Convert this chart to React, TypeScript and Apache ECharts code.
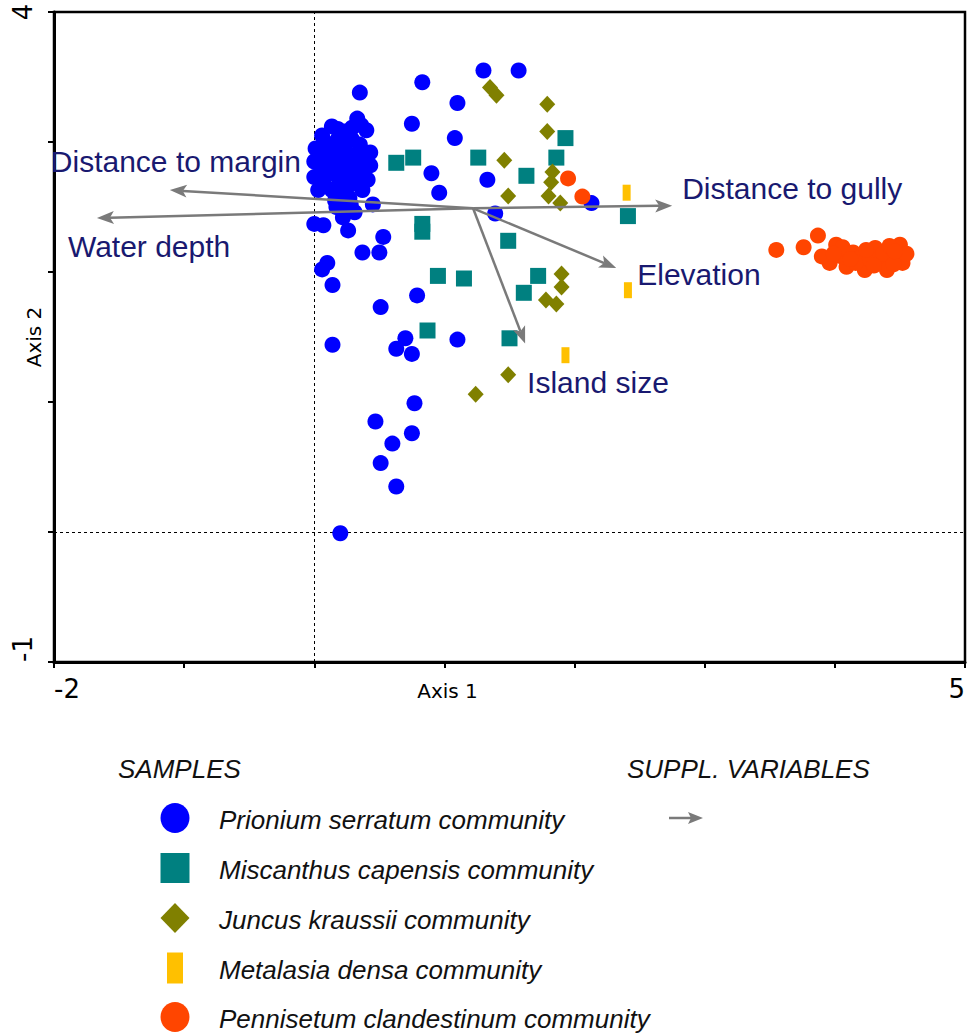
import React, { useEffect, useRef } from "react";
import * as echarts from "echarts";

// ---------- DATA ----------
const seriesNames = [
  "Prionium serratum community",
  "Miscanthus capensis community",
  "Juncus kraussii community",
  "Metalasia densa community",
  "Pennisetum clandestinum community",
];

const prionium: number[][] = [
  [0.2, -0.01], [0.63, 0.35], [0.51, 0.53], [0.75, 0.76], [0.6, 0.68], [0.47, 0.85],
  [0.77, 0.99], [0.14, 1.44], [0.63, 1.41], [0.7, 1.49], [0.75, 1.37], [1.1, 1.48],
  [0.51, 1.73], [0.79, 1.82], [0.14, 1.9], [0.06, 2.02], [0.1, 2.07], [0.37, 2.15],
  [0.5, 2.15], [0.53, 2.27], [0.0, 2.37], [0.07, 2.36], [0.22, 2.42], [0.26, 2.32],
  [0.45, 2.52], [0.22, 2.52], [0.9, 2.76], [0.96, 2.61], [1.33, 2.71], [1.39, 2.45],
  [1.08, 3.03], [0.75, 3.14], [1.1, 3.3], [0.83, 3.46], [1.3, 3.55], [1.57, 3.55],
  [0.35, 3.38], [2.13, 2.53],
  [0.33, 3.18], [0.4, 3.09], [0.135, 3.12], [0.06, 3.05], [0.235, 3.08], [0.01, 2.95],
  [0.12, 2.98], [0.235, 2.95], [0.35, 2.98], [0.43, 2.92], [0.0, 2.85], [0.1, 2.86],
  [0.21, 2.85], [0.32, 2.86], [0.43, 2.82], [0.0, 2.73], [0.1, 2.75], [0.21, 2.72],
  [0.32, 2.74], [0.41, 2.71], [0.03, 2.63], [0.135, 2.63], [0.24, 2.615], [0.37, 2.63],
  [0.16, 2.55], [0.27, 2.57], [0.22, 2.46], [0.31, 2.46],
  [0.055, 2.9], [0.165, 2.9], [0.28, 2.9], [0.39, 2.9], [0.055, 2.79], [0.165, 2.79],
  [0.27, 2.79], [0.38, 2.79], [0.07, 2.68], [0.19, 2.68], [0.3, 2.68], [0.18, 3.02],
  [0.29, 3.02], [0.08, 3.0], [0.21, 2.58], [0.28, 2.52], [0.17, 2.5], [0.18, 3.1],
  [0.29, 3.11], [0.36, 3.13],
];

const miscanthus: number[][] = [
  [0.63, 2.84], [0.76, 2.88], [1.26, 2.88], [1.93, 3.03], [1.86, 2.88], [1.63, 2.74],
  [0.83, 2.37], [0.83, 2.31], [1.49, 2.24], [0.95, 1.97], [1.15, 1.95], [1.72, 1.97],
  [1.61, 1.84], [0.87, 1.55], [1.5, 1.49], [2.41, 2.43],
];

const juncus: number[][] = [
  [1.35, 3.42], [1.4, 3.36], [1.79, 3.29], [1.79, 3.08], [1.46, 2.86], [1.49, 2.585],
  [1.83, 2.77], [1.82, 2.69], [1.8, 2.585], [1.89, 2.53], [1.9, 1.985], [1.9, 1.885],
  [1.78, 1.785], [1.86, 1.754], [1.49, 1.21], [1.24, 1.06],
];

const metalasia: number[][] = [
  [2.4, 2.61], [2.41, 1.86], [1.93, 1.36],
];

const pennisetum: number[][] = [
  [1.95, 2.72], [2.06, 2.58], [3.55, 2.17], [3.76, 2.19], [3.87, 2.28], [3.96, 2.07],
  [4.01, 2.21], [4.09, 2.04], [4.14, 2.15], [4.19, 2.11], [4.23, 2.015], [4.31, 2.185],
  [4.34, 2.09], [4.4, 2.015], [4.475, 2.115], [4.5, 2.21], [4.52, 2.07], [3.9, 2.12],
  [4.05, 2.12], [4.16, 2.07], [4.27, 2.1], [4.37, 2.14], [4.45, 2.06], [4.06, 2.19],
  [4.24, 2.17], [4.42, 2.2], [4.55, 2.14], [3.99, 2.14], [4.12, 2.1], [4.3, 2.05],
  [4.46, 2.16],
];

const variableNames = [
  "Distance to margin",
  "Water depth",
  "Distance to gully",
  "Elevation",
  "Island size",
];
const arrowOrigin = [1.22, 2.49];
const variableTips: number[][] = [
  [-1.11, 2.63], [-1.67, 2.415], [2.75, 2.51], [2.32, 2.03], [1.62, 1.45],
];

const xTickLabels = [-2, 5];
const yTickLabels = [-1, 4];

// ---------- STYLES ----------
const colors = ["#0000ff", "#008080", "#808000", "#ffc000", "#ff4500"];
const arrowColor = "#7a7a7a";
const labelColor = "#191970";
const labelOffsets = [[-119, -29], [-29, 28], [10, -17], [21, 6], [2, 39]];
const sans = '"Liberation Sans", Arial, sans-serif';
const dejavu = '"DejaVu Sans", sans-serif';

export default function App() {
  const ref = useRef<HTMLDivElement>(null);

  useEffect(() => {
    document.body.style.margin = "0";
    const chart = echarts.init(ref.current!, null, { renderer: "svg" });

    const scatter = (name: string, data: number[][], symbol: string, size: any, color: string) => ({
      type: "scatter",
      name,
      data,
      symbol,
      symbolSize: size,
      itemStyle: { color, opacity: 1 },
      z: 2,
      silent: true,
      emphasis: { disabled: true },
    });

    const legendX = 175;
    const legendTextX = 219;
    const legendYs = [818, 868, 918, 968, 1017];

    const graphic: any[] = [
      {
        type: "text", x: 118, y: 769, z: 10,
        style: { text: "SAMPLES", fill: "#111", fontSize: 26, fontStyle: "italic", fontFamily: sans, textAlign: "left", textVerticalAlign: "middle" },
      },
      {
        type: "text", x: 627, y: 769, z: 10,
        style: { text: "SUPPL. VARIABLES", fill: "#111", fontSize: 26, fontStyle: "italic", fontFamily: sans, textAlign: "left", textVerticalAlign: "middle" },
      },
      { type: "ellipse", z: 10, shape: { cx: legendX, cy: legendYs[0], rx: 14.5, ry: 15 }, style: { fill: colors[0] } },
      { type: "rect", z: 10, shape: { x: legendX - 14.5, y: legendYs[1] - 15, width: 29, height: 30 }, style: { fill: colors[1] } },
      {
        type: "polygon", z: 10,
        shape: { points: [[legendX, legendYs[2] - 15], [legendX + 14.5, legendYs[2]], [legendX, legendYs[2] + 15], [legendX - 14.5, legendYs[2]]] },
        style: { fill: colors[2] },
      },
      { type: "rect", z: 10, shape: { x: legendX - 8, y: legendYs[3] - 15.5, width: 16, height: 31 }, style: { fill: colors[3] } },
      { type: "ellipse", z: 10, shape: { cx: legendX, cy: legendYs[4], rx: 14.5, ry: 15 }, style: { fill: colors[4] } },
      { type: "line", z: 10, shape: { x1: 669, y1: 818, x2: 692, y2: 818 }, style: { stroke: arrowColor, lineWidth: 2.5 } },
      {
        type: "polygon", z: 10,
        shape: { points: [[703, 818], [688, 812], [691, 818], [688, 824]] },
        style: { fill: arrowColor },
      },
    ];
    seriesNames.forEach((n, i) => {
      graphic.push({
        type: "text", x: legendTextX, y: legendYs[i] + 2, z: 10,
        style: { text: n, fill: "#111", fontSize: 26, fontStyle: "italic", fontFamily: sans, textAlign: "left", textVerticalAlign: "middle" },
      });
    });

    const option: any = {
      animation: false,
      backgroundColor: "#ffffff",
      grid: {
        left: 54, top: 12, width: 911, height: 650,
        show: true, borderColor: "#000", borderWidth: 2.5,
        containLabel: false, outerBoundsMode: "none",
      },
      xAxis: {
        type: "value", min: -2, max: 5, interval: 1,
        axisLine: { onZero: false, lineStyle: { color: "#000", width: 3 } },
        axisTick: { length: 6, lineStyle: { color: "#000", width: 2 } },
        splitLine: { show: false },
        axisLabel: {
          color: "#000", fontSize: 26, fontFamily: dejavu, margin: 14,
          showMinLabel: true, showMaxLabel: true,
          alignMinLabel: "left", alignMaxLabel: "right",
          formatter: (v: number) => (xTickLabels.includes(v) ? String(v) : ""),
        },
        name: "Axis 1", nameLocation: "middle", nameGap: 19, nameMoveOverlap: false,
        nameTextStyle: { color: "#000", fontSize: 20, fontFamily: dejavu, padding: [0, 124, 0, 0] },
      },
      yAxis: {
        type: "value", min: -1, max: 4, interval: 1,
        axisLine: { onZero: false, lineStyle: { color: "#000", width: 3 } },
        axisTick: { length: 6, lineStyle: { color: "#000", width: 2 } },
        splitLine: { show: false },
        axisLabel: {
          color: "#000", fontSize: 26, fontFamily: dejavu, margin: 18, rotate: 90,
          showMinLabel: true, showMaxLabel: true,
          alignMinLabel: "left", alignMaxLabel: "center",
          formatter: (v: number) => (yTickLabels.includes(v) ? String(v) : ""),
        },
        name: "Axis 2", nameLocation: "middle", nameGap: 10, nameMoveOverlap: false,
        nameTextStyle: { color: "#000", fontSize: 20, fontFamily: dejavu },
      },
      series: [
        {
          type: "scatter", data: [], silent: true, z: 1,
          markLine: {
            silent: true, symbol: "none", z: 1, animation: false,
            label: { show: false },
            lineStyle: { color: "#000", width: 1, type: [3, 3] },
            emphasis: { disabled: true },
            data: [{ xAxis: 0 }, { yAxis: 0 }],
          },
        },
        scatter(seriesNames[0], prionium, "circle", 16, colors[0]),
        scatter(seriesNames[1], miscanthus, "rect", 16, colors[1]),
        scatter(seriesNames[2], juncus, "diamond", [16, 17], colors[2]),
        scatter(seriesNames[3], metalasia, "rect", [8, 16], colors[3]),
        scatter(seriesNames[4], pennisetum, "circle", 16, colors[4]),
        {
          type: "custom",
          name: "Supplementary variables",
          coordinateSystem: "cartesian2d",
          silent: true,
          z: 5,
          clip: false,
          encode: { x: [0, 2], y: [1, 3] },
          data: variableTips.map((t, i) => ({
            name: variableNames[i],
            value: [arrowOrigin[0], arrowOrigin[1], t[0], t[1]],
          })),
          renderItem: (params: any, api: any) => {
            const i = params.dataIndex;
            const p0 = api.coord([api.value(0), api.value(1)]);
            const p1 = api.coord([api.value(2), api.value(3)]);
            const dx = p1[0] - p0[0];
            const dy = p1[1] - p0[1];
            const len = Math.sqrt(dx * dx + dy * dy) || 1;
            const ux = dx / len, uy = dy / len;
            const nx = -uy, ny = ux;
            const headLen = 17, headHalf = 6.5, notch = 13;
            const bx = p1[0] - ux * headLen, by = p1[1] - uy * headLen;
            const qx = p1[0] - ux * notch, qy = p1[1] - uy * notch;
            const off = labelOffsets[i];
            return {
              type: "group",
              children: [
                {
                  type: "line",
                  shape: { x1: p0[0], y1: p0[1], x2: qx, y2: qy },
                  style: { stroke: arrowColor, lineWidth: 2.5 },
                },
                {
                  type: "polygon",
                  shape: {
                    points: [
                      [p1[0], p1[1]],
                      [bx + nx * headHalf, by + ny * headHalf],
                      [qx, qy],
                      [bx - nx * headHalf, by - ny * headHalf],
                    ],
                  },
                  style: { fill: arrowColor },
                },
                {
                  type: "text",
                  x: p1[0] + off[0],
                  y: p1[1] + off[1],
                  style: {
                    text: variableNames[i],
                    fill: labelColor,
                    fontSize: 30,
                    fontFamily: sans,
                    textAlign: "left",
                    textVerticalAlign: "middle",
                  },
                },
              ],
            };
          },
        },
      ],
      graphic,
    };

    chart.setOption(option);
    return () => chart.dispose();
  }, []);

  return <div ref={ref} style={{ width: 968, height: 1035 }} />;
}
